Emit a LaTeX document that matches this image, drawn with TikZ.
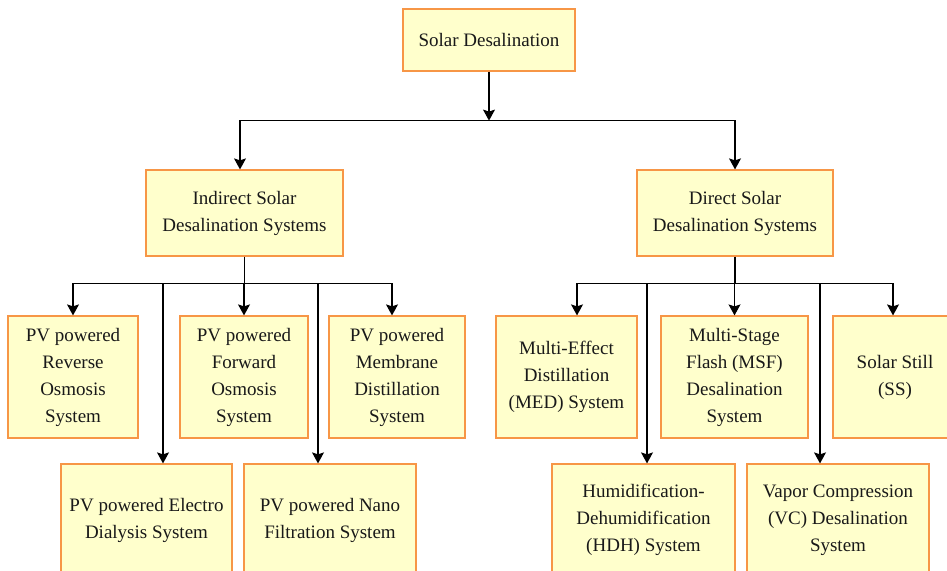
\documentclass[tikz,border=0pt]{standalone}
\usepackage{fontspec}
\setmainfont{Liberation Serif}
\usetikzlibrary{arrows.meta}
\definecolor{boxfill}{RGB}{255,255,204}
\definecolor{boxline}{RGB}{247,150,70}
\tikzset{
  box/.style={draw=boxline, fill=boxfill, line width=1.2pt, align=center, inner sep=2pt,
    font=\fontsize{19}{27}\selectfont, text=black!90},
}
\begin{document}
\begin{tikzpicture}[x=1pt, y=-1pt, >={Stealth[length=11pt,width=12pt,inset=2pt]}, line width=1.1pt]
  \useasboundingbox (0,0) rectangle (947,570);
  \clip (0,0) rectangle (947,570);

  % top level
  \node[box, minimum width=172, minimum height=62] (solar) at (489,40) {Solar Desalination};
  \node[box, minimum width=197, minimum height=86] (ind) at (244.5,213) {Indirect Solar\\Desalination Systems};
  \node[box, minimum width=196, minimum height=86] (dir) at (735,213) {Direct Solar\\Desalination Systems};

  % indirect systems
  \node[box, minimum width=130, minimum height=122] (ro) at (73,377) {PV powered\\Reverse\\Osmosis\\System};
  \node[box, minimum width=128, minimum height=122] (fo) at (244,377) {PV powered\\Forward\\Osmosis\\System};
  \node[box, minimum width=136, minimum height=122] (md) at (397,377) {PV powered\\Membrane\\Distillation\\System};
  \node[box, minimum width=171, minimum height=112] (ed) at (146.5,520) {PV powered Electro\\Dialysis System};
  \node[box, minimum width=172, minimum height=112] (nf) at (330,520) {PV powered Nano\\Filtration System};

  % direct systems
  \node[box, minimum width=141, minimum height=122] (med) at (566.5,377) {Multi-Effect\\Distillation\\(MED) System};
  \node[box, minimum width=147, minimum height=122] (msf) at (734.5,377) {Multi-Stage\\Flash (MSF)\\Desalination\\System};
  \node[box, minimum width=124, minimum height=122] (ss) at (895,377) {Solar Still\\(SS)};
  \node[box, minimum width=183, minimum height=112] (hdh) at (643.5,520) {Humidification-\\Dehumidification\\(HDH) System};
  \node[box, minimum width=182, minimum height=112] (vc) at (838,520) {Vapor Compression\\(VC) Desalination\\System};

  % connectors
  \coordinate (tb) at ([yshift=-49pt]solar.south);
  \draw[->] (solar.south) -- (tb);
  \draw[->] (tb) -| ([xshift=-4.5pt]ind.north);
  \draw[->] (tb) -| (dir.north);

  \coordinate (lb) at ([yshift=-27pt]ind.south);
  \draw (ind.south) -- (lb);
  \draw[->] (lb) -| (ro.north);
  \draw[->] (lb) -| ([xshift=16.5pt]ed.north);
  \draw[->] (lb) -| (fo.north);
  \draw[->] (lb) -| ([xshift=-12pt]nf.north);
  \draw[->] (lb) -| ([xshift=-5pt]md.north);

  \coordinate (rb) at ([yshift=-27pt]dir.south);
  \draw (dir.south) -- (rb);
  \draw[->] (rb) -| ([xshift=10.5pt]med.north);
  \draw[->] (rb) -| ([xshift=3.5pt]hdh.north);
  \draw[->] (rb) -| (msf.north);
  \draw[->] (rb) -| ([xshift=-18pt]vc.north);
  \draw[->] (rb) -| ([xshift=-2pt]ss.north);
\end{tikzpicture}
\end{document}
